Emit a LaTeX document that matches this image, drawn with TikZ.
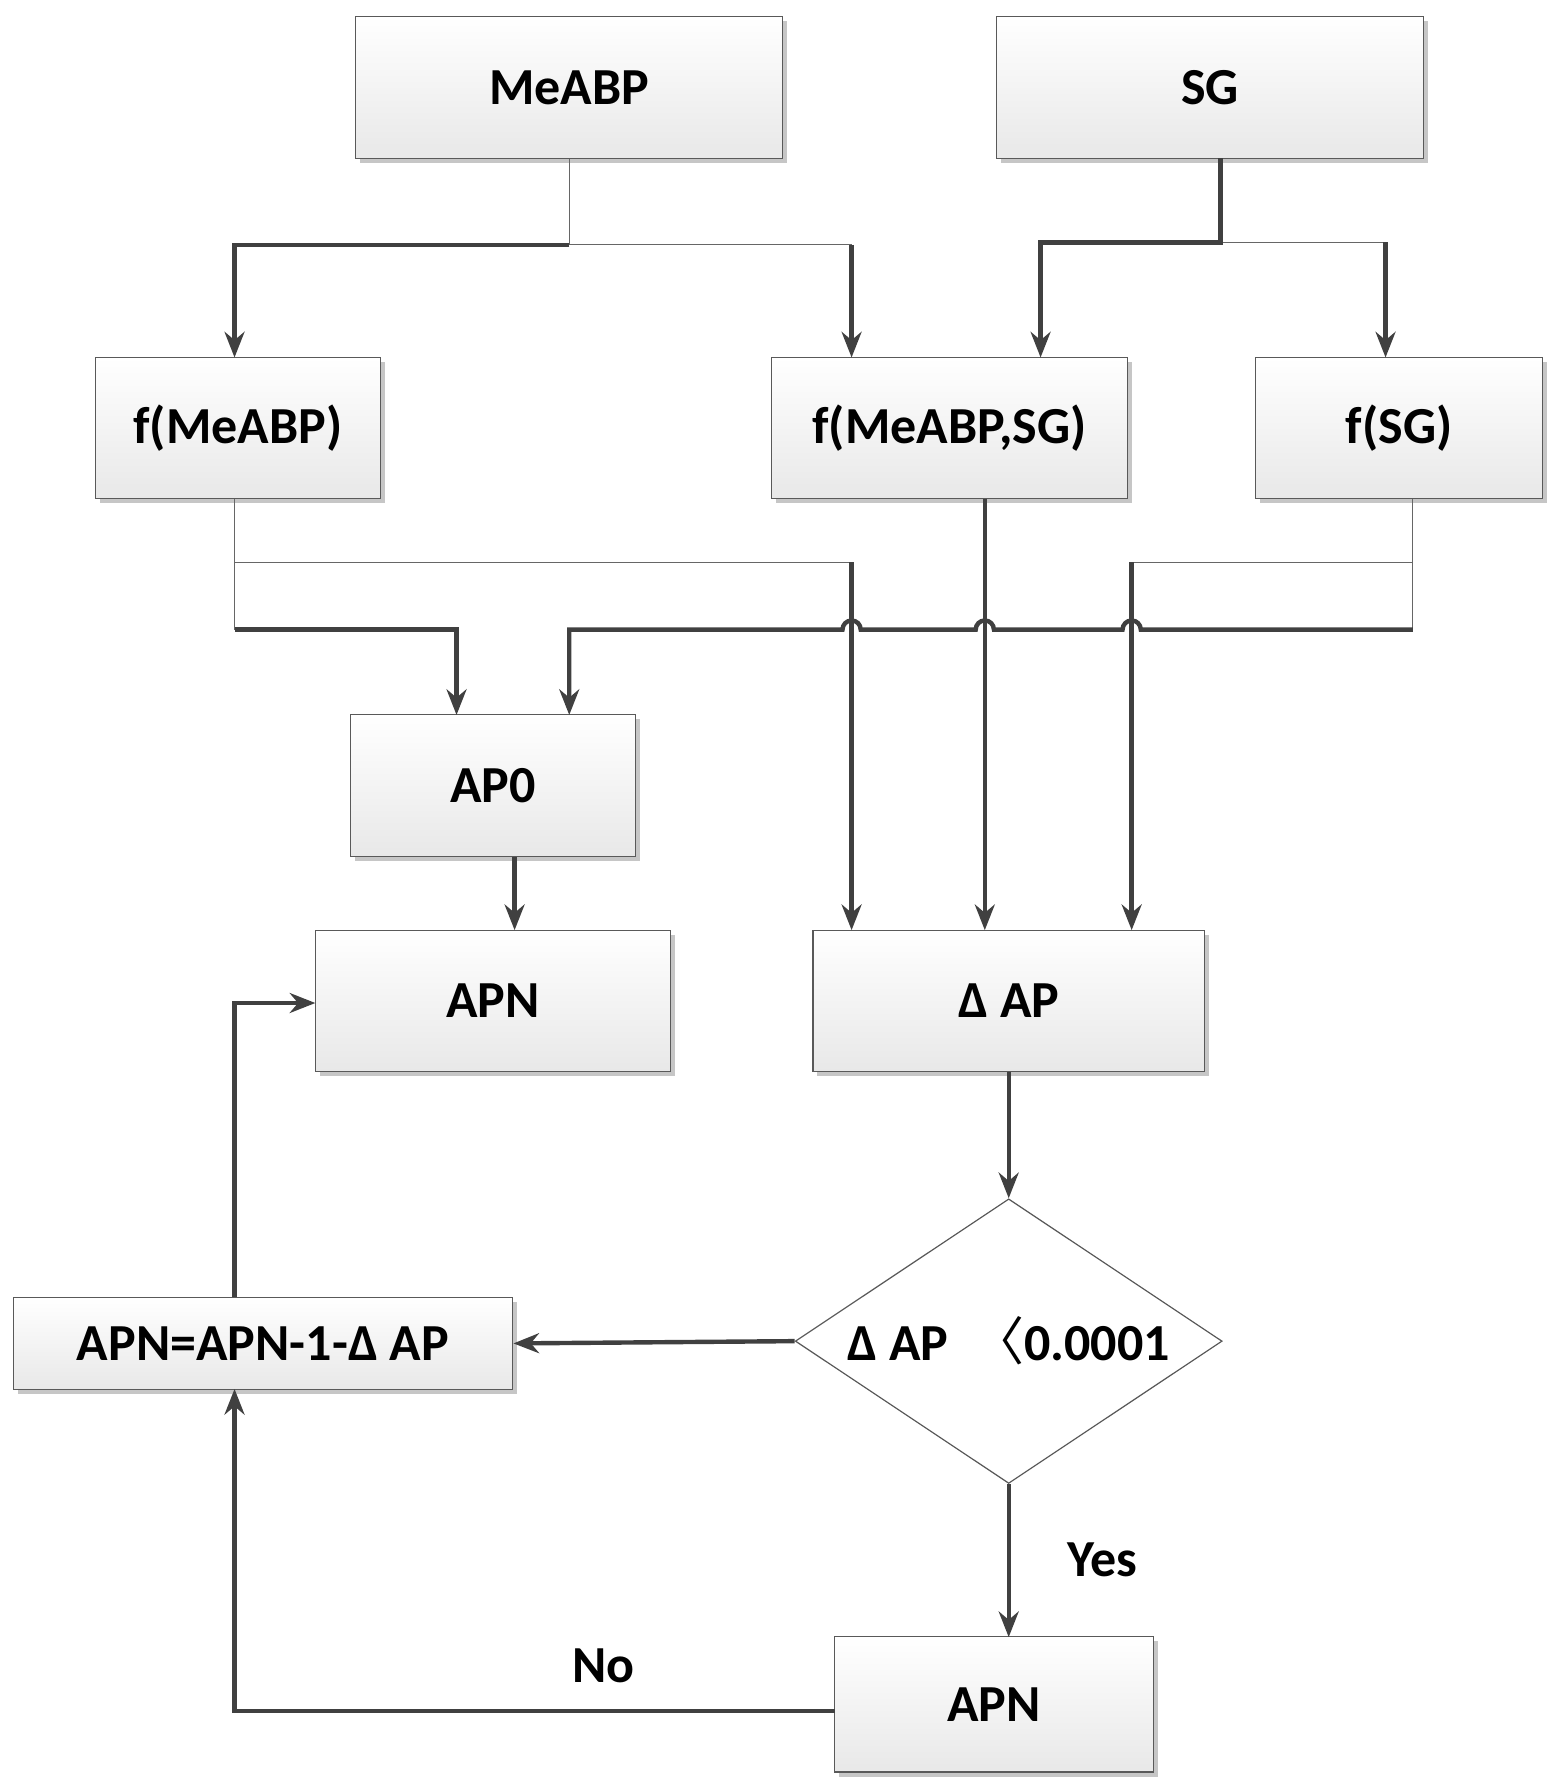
\documentclass[tikz,border=0pt]{standalone}
\usepackage{fontspec}
\setmainfont{Carlito}
\newfontfamily\cjkf{Noto Sans CJK SC}
\usetikzlibrary{shapes.geometric,shadows,arrows.meta}
\begin{document}
\begin{tikzpicture}[x=0.02cm,y=-0.02cm,
  box/.style={draw=gray!70!black,line width=0.6pt,top color=white,bottom color=gray!18,
    drop shadow={shadow xshift=0.08cm,shadow yshift=-0.08cm,fill=gray!45,opacity=1},
    font=\fontsize{26}{30}\selectfont\bfseries,inner sep=0pt},
  thick line/.style={draw=black!75,line width=2.2pt},
  thin line/.style={draw=black!60,line width=0.6pt},
  arr/.style={thick line,-{Stealth[length=0.45cm,width=0.35cm]}},
  lbl/.style={font=\fontsize{26}{30}\selectfont\bfseries}]
\useasboundingbox (0,0) rectangle (1366,1567);
\node[box,minimum width=7.5cm,minimum height=2.5cm] (meabp) at (500,77) {MeABP};
\node[box,minimum width=7.5cm,minimum height=2.5cm] (sg) at (1063,77) {SG};
\node[box,minimum width=5cm,minimum height=2.48cm] (fm) at (209,376) {f(MeABP)};
\node[box,minimum width=6.26cm,minimum height=2.48cm] (fms) at (834,376) {f(MeABP,SG)};
\node[box,minimum width=5.04cm,minimum height=2.48cm] (fs) at (1229,376) {f(SG)};
\node[box,minimum width=5cm,minimum height=2.5cm] (ap0) at (433,690) {AP0};
\node[box,minimum width=6.24cm,minimum height=2.48cm] (apn) at (433,879) {APN};
\node[box,minimum width=6.88cm,minimum height=2.48cm] (dap) at (886,879) {Δ AP};
\node[diamond,aspect=1.5,draw=gray!70!black,line width=0.6pt,fill=white,minimum width=7.5cm,minimum height=5cm,inner sep=0pt,font=\fontsize{26}{30}\selectfont\bfseries] (dia) at (886,1178) {Δ AP\ \ {\cjkf\mdseries 〈}0.0001};
\node[box,minimum width=8.78cm,minimum height=1.62cm] (upd) at (231,1180) {APN=APN-1-Δ AP};
\node[box,minimum width=5.6cm,minimum height=2.38cm] (apnf) at (873,1497) {APN};
% MeABP splits
\coordinate (m1) at (500,215);
\draw[thin line] (meabp.south) -- (m1) -- (748,215);
\draw[arr] (m1) -- (206,215) -- (206,314);
\draw[arr] (748,215) -- (748,314);
% SG splits
\coordinate (s1) at (1072,213);
\draw[thin line] (s1) -- (1217,213);
\draw[arr] (1072,139) -- (s1) -- (914,213) -- (914,314);
\draw[arr] (1217,213) -- (1217,314);
% f(MeABP)
\draw[thin line] (206,438) -- (206,553);
\draw[thin line] (206,494) -- (748,494);
\draw[arr] (206,553) -- (401,553) -- (401,628);
\draw[arr] (748,494) -- (748,817);
% f(MeABP,SG)
\draw[arr] (865,438) -- (865,817);
% f(SG)
\draw[thin line] (1241,438) -- (1241,553);
\draw[thin line] (1241,494) -- (994,494);
\draw[arr] (994,494) -- (994,817);
\draw[arr] (1241,553) -- (1002,553) arc[start angle=0,end angle=180,radius=0.16cm]
  -- (873,553) arc[start angle=0,end angle=180,radius=0.16cm]
  -- (756,553) arc[start angle=0,end angle=180,radius=0.16cm]
  -- (500,553) -- (500,628);
% lower flow
\draw[arr] (452,753) -- (452,817);
\draw[arr] (dap.south) -- (dia.north);
\draw[arr] (dia.west) -- (upd.east);
\draw[arr] (206,1139) -- (206,881) -- (277,881);
\draw[arr] (dia.south) -- (886,1438);
\node[lbl] (yes) at (968,1370) {Yes};
\draw[arr] (733,1503) -- (206,1503) -- (206,1220);
\node[lbl] (no) at (530,1463) {No};
\end{tikzpicture}
\end{document}
